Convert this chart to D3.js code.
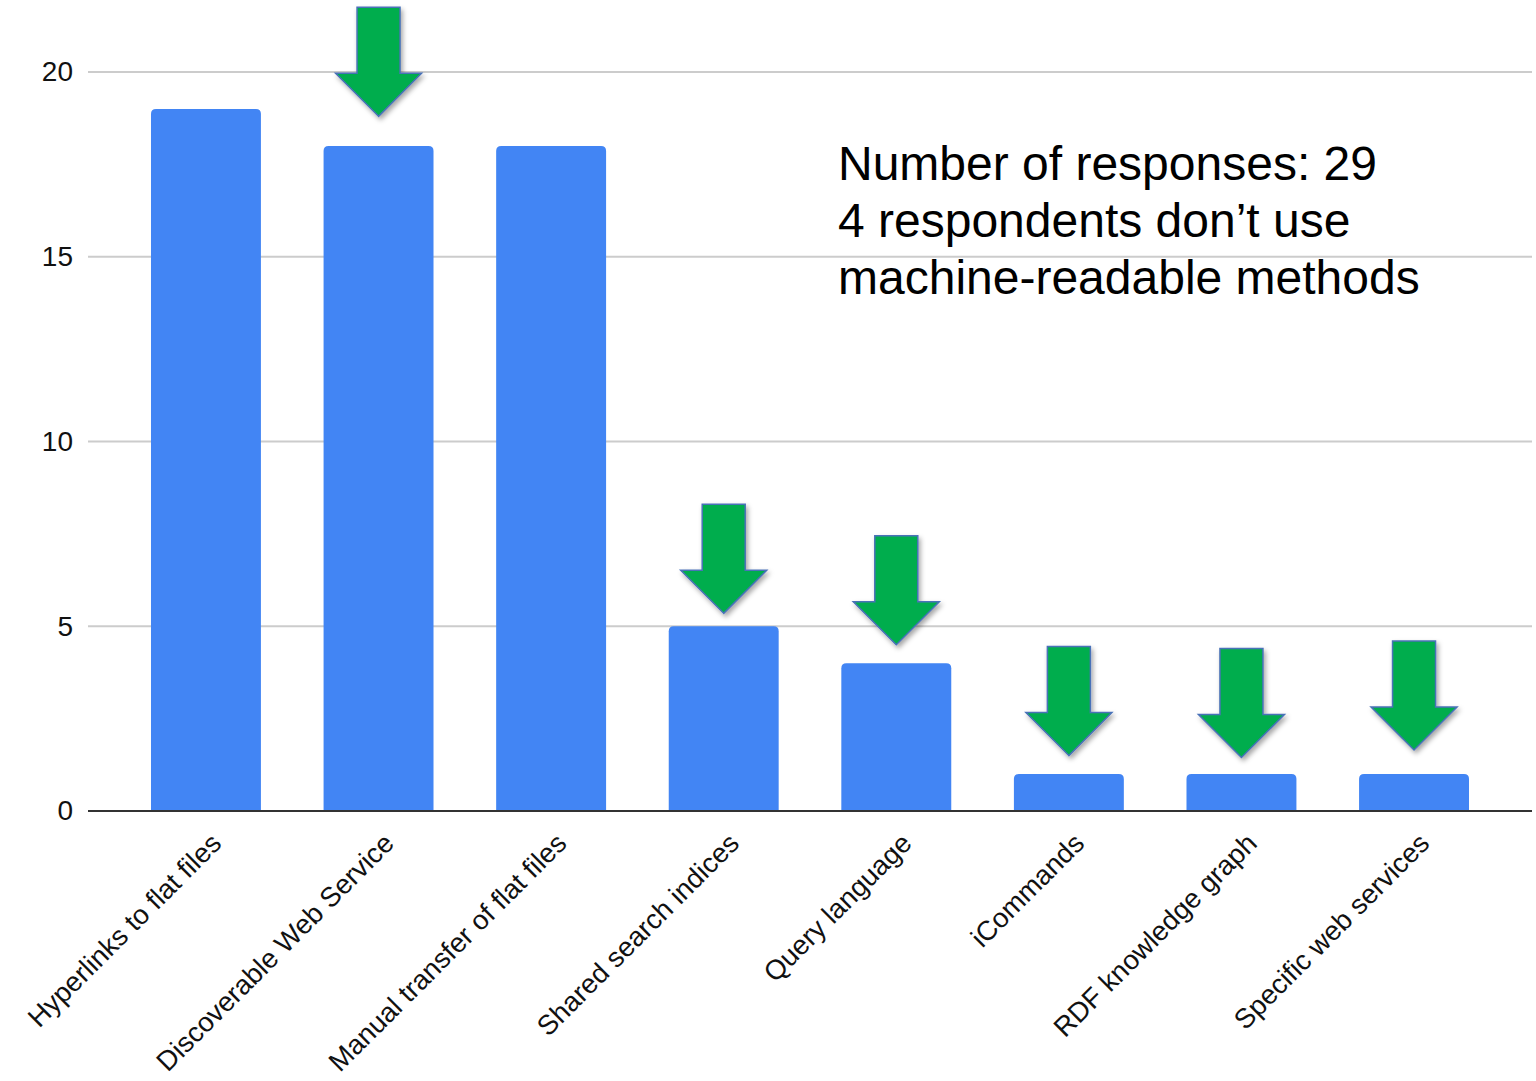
<!DOCTYPE html>
<html>
<head>
<meta charset="utf-8">
<script src="https://cdn.jsdelivr.net/npm/d3@7"></script>
<style>
  body { margin: 0; background: #fff; }
  svg { display: block; font-family: "Liberation Sans", Arial, sans-serif; }
</style>
</head>
<body>
<svg id="chart" width="1536" height="1081"></svg>
<script>
// categories and counts
var categories = ["Hyperlinks to flat files", "Discoverable Web Service", "Manual transfer of flat files",
                  "Shared search indices", "Query language", "iCommands", "RDF knowledge graph",
                  "Specific web services"];
var counts = [19, 18, 18, 5, 4, 1, 1, 1];
var yTicks = [0, 5, 10, 15, 20];

// green arrows: which bars, and where the tip ends (in y units)
var arrowCats = ["Discoverable Web Service", "Shared search indices", "Query language",
                 "iCommands", "RDF knowledge graph", "Specific web services"];
var arrowTips = [18.8, 5.35, 4.5, 1.5, 1.45, 1.65];

var noteLines = ["Number of responses: 29", "4 respondents don\u2019t use", "machine-readable methods"];

var svg = d3.select("#chart");

var x = d3.scaleBand().domain(categories).range([88, 1532])
          .paddingInner(0.363).paddingOuter(0.365);
var y = d3.scaleLinear().domain([0, 20]).range([811, 72]);

var defs = svg.append("defs");
var shadow = defs.append("filter").attr("id", "shadow")
    .attr("x", "-30%").attr("y", "-30%").attr("width", "160%").attr("height", "160%");
shadow.append("feDropShadow").attr("dx", 2).attr("dy", 3).attr("stdDeviation", 2.5)
      .attr("flood-color", "#000").attr("flood-opacity", 0.35);

// gridlines
svg.append("g").attr("class", "grid")
   .selectAll("line")
   .data(yTicks.filter(d => d > 0))
   .enter()
   .append("line")
     .attr("x1", 88).attr("x2", 1532)
     .attr("y1", d => y(d)).attr("y2", d => y(d))
     .style("stroke", "#cccccc")
     .style("stroke-width", 2);

// y labels
var yAxis = d3.axisLeft(y).tickValues(yTicks).tickSize(0).tickPadding(15);
var yg = svg.append("g").attr("transform", "translate(88,0)").call(yAxis);
yg.select(".domain").remove();
yg.selectAll("text").style("font-size", "28px").style("fill", "#111");

// bars with rounded tops
function barPath(x0, w, yTop, yBase, r) {
  var p = d3.path();
  p.moveTo(x0, yBase);
  p.lineTo(x0, yTop + r);
  p.quadraticCurveTo(x0, yTop, x0 + r, yTop);
  p.lineTo(x0 + w - r, yTop);
  p.quadraticCurveTo(x0 + w, yTop, x0 + w, yTop + r);
  p.lineTo(x0 + w, yBase);
  p.closePath();
  return p.toString();
}

svg.append("g").attr("class", "bars")
   .selectAll("path")
   .data(categories)
   .enter()
   .append("path")
     .attr("d", (d, i) => barPath(x(d), x.bandwidth(), y(counts[i]), y(0), 5))
     .style("fill", "#4285f4");

// baseline
svg.append("line")
   .attr("x1", 88).attr("x2", 1532)
   .attr("y1", y(0)).attr("y2", y(0))
   .style("stroke", "#333")
   .style("stroke-width", 2);

// x labels rotated
svg.append("g").attr("class", "xlabels")
   .selectAll("text")
   .data(categories)
   .enter()
   .append("text")
     .attr("transform", d => "translate(" + (x(d) + x.bandwidth() / 2 + 17) + "," + (y(0) + 34) + ") rotate(-45)")
     .attr("text-anchor", "end")
     .style("font-size", "27.5px")
     .style("fill", "#111")
     .text(d => d);

// arrows
var shaftW = 43, headW = 86, headH = 43, shaftH = 66;
function arrowPath(cx, tipY) {
  var baseY = tipY - headH, topY = baseY - shaftH;
  return "M" + cx + "," + tipY +
         "L" + (cx - headW / 2) + "," + baseY +
         "L" + (cx - shaftW / 2) + "," + baseY +
         "L" + (cx - shaftW / 2) + "," + topY +
         "L" + (cx + shaftW / 2) + "," + topY +
         "L" + (cx + shaftW / 2) + "," + baseY +
         "L" + (cx + headW / 2) + "," + baseY + "Z";
}

svg.append("g").attr("class", "arrows")
   .selectAll("path")
   .data(arrowCats)
   .enter()
   .append("path")
     .attr("d", (d, i) => arrowPath(x(d) + x.bandwidth() / 2, y(arrowTips[i])))
     .style("fill", "#00ad4e")
     .style("stroke", "#4a72b8")
     .style("stroke-width", 1.5)
     .attr("filter", "url(#shadow)");

// note
svg.append("text")
   .attr("x", 838).attr("y", 180)
   .style("font-size", "48px")
   .style("fill", "#000")
   .selectAll("tspan")
   .data(noteLines)
   .enter()
   .append("tspan")
     .attr("x", 838)
     .attr("dy", (d, i) => i === 0 ? 0 : 57)
     .text(d => d);
</script>
</body>
</html>
